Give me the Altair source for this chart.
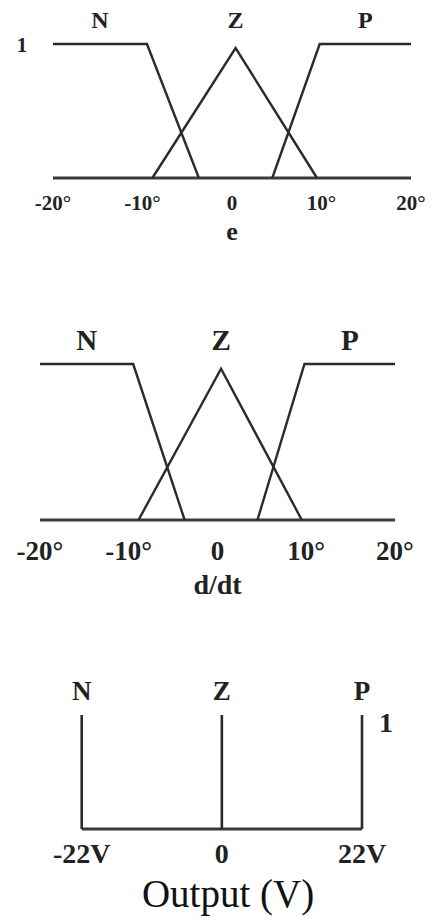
import altair as alt
import pandas as pd

# Fuzzy sets used for both inputs (error e and its derivative d/dt)
TERMS = ["N", "Z", "P"]
N_X = [-20, -9.5, -3.7]
N_MU = [1, 1, 0]
Z_X = [-8.9, 0.4, 9.5]
Z_MU = [0, 0.97, 0]
P_X = [4.5, 9.8, 20]
P_MU = [0, 1, 1]
UNIVERSE = [-20, 20]
TICKS = [-20, -10, 0, 10, 20]
TICK_LABELS = ["-20°", "-10°", "0", "10°", "20°"]

# Output singletons
OUT_X = [-22, 0, 22]
OUT_MU = [1, 1, 1]
OUT_TICK_LABELS = ["-22V", "0", "22V"]

SERIF = "Liberation Serif"
INK = "#222222"
LINE = "#2b2b2b"

sets = {"N": (N_X, N_MU), "Z": (Z_X, Z_MU), "P": (P_X, P_MU)}
mf = pd.DataFrame(
    [
        {"term": t, "step": i, "x": x, "mu": m}
        for t, (xs, ms) in sets.items()
        for i, (x, m) in enumerate(zip(xs, ms))
    ]
)
# label each set above the centre of its core (where membership peaks)
term_pos = pd.DataFrame(
    {
        "term": TERMS,
        "x": [
            sum(x for x, m in zip(*sets[t]) if m == max(sets[t][1]))
            / sum(1 for m in sets[t][1] if m == max(sets[t][1]))
            for t in TERMS
        ],
    }
)
base = pd.DataFrame({"x": UNIVERSE, "mu": [0, 0]})
ticks = pd.DataFrame({"x": TICKS, "label": TICK_LABELS})


def fuzzy_panel(height, xrange, yrange, term_y, term_size, tick_y, tick_size,
                title, title_y, title_size, one_xy=None):
    xs = alt.Scale(domain=UNIVERSE, range=xrange)
    ys = alt.Scale(domain=[0, 1], range=yrange)
    X = alt.X("x:Q", scale=xs, axis=None)
    Y = alt.Y("mu:Q", scale=ys, axis=None)

    baseline = alt.Chart(base).mark_line(color="#3a3a3a", strokeWidth=3.2).encode(x=X, y=Y)
    curves = (
        alt.Chart(mf)
        .mark_line(color=LINE, strokeWidth=2.4, strokeJoin="miter")
        .encode(x=X, y=Y, detail="term:N", order="step:O")
    )
    term_text = (
        alt.Chart(term_pos)
        .mark_text(font=SERIF, fontWeight="bold", fontSize=term_size, color=INK,
                   baseline="alphabetic")
        .encode(x=X, y=alt.value(term_y), text="term:N")
    )
    tick_text = (
        alt.Chart(ticks)
        .mark_text(font=SERIF, fontWeight="bold", fontSize=tick_size, color=INK,
                   baseline="alphabetic")
        .encode(x=X, y=alt.value(tick_y), text="label:N")
    )
    title_text = (
        alt.Chart(pd.DataFrame({"x": [0], "t": [title]}))
        .mark_text(font=SERIF, fontWeight="bold", fontSize=title_size, color=INK,
                   baseline="alphabetic")
        .encode(x=X, y=alt.value(title_y), text="t:N")
    )
    layers = [baseline, curves, term_text, tick_text, title_text]
    if one_xy is not None:
        layers.append(
            alt.Chart(pd.DataFrame({"t": ["1"]}))
            .mark_text(font=SERIF, fontWeight="bold", fontSize=21, color=INK,
                       baseline="alphabetic")
            .encode(x=alt.value(one_xy[0]), y=alt.value(one_xy[1]), text="t:N")
        )
    return alt.layer(*layers).properties(width=441, height=height)


panel_e = fuzzy_panel(255, [53, 411], [178, 44], 28, 24, 210, 21,
                      "e", 240, 26, one_xy=(22, 52))
panel_d = fuzzy_panel(355, [40, 395], [265, 109], 95, 29, 305, 27,
                      "d/dt", 339, 28)

# output panel: singleton spikes at -22 V, 0 and 22 V
out_df = pd.DataFrame({"term": TERMS, "x": OUT_X, "mu": OUT_MU, "zero": [0, 0, 0]})
out_ticks = pd.DataFrame({"x": OUT_X, "label": OUT_TICK_LABELS})
oxs = alt.Scale(domain=[-22, 22], range=[81.7, 362])
oys = alt.Scale(domain=[0, 1], range=[219, 105])
OX = alt.X("x:Q", scale=oxs, axis=None)
OY = alt.Y("mu:Q", scale=oys, axis=None)

out_base = (
    alt.Chart(pd.DataFrame({"x": [OUT_X[0], OUT_X[-1]], "mu": [0, 0]}))
    .mark_line(color="#3a3a3a", strokeWidth=3.2)
    .encode(x=OX, y=OY)
)
spikes = (
    alt.Chart(out_df)
    .mark_rule(color=LINE, strokeWidth=2.6)
    .encode(x=OX, y=OY, y2="zero:Q")
)
out_terms = (
    alt.Chart(out_df)
    .mark_text(font=SERIF, fontWeight="bold", fontSize=27, color=INK, baseline="alphabetic")
    .encode(x=OX, y=alt.value(90), text="term:N")
)
out_tick_text = (
    alt.Chart(out_ticks)
    .mark_text(font=SERIF, fontWeight="bold", fontSize=28, color=INK, baseline="alphabetic")
    .encode(x=OX, y=alt.value(253), text="label:N")
)
out_title = (
    alt.Chart(pd.DataFrame({"t": ["Output (V)"]}))
    .mark_text(font=SERIF, fontSize=39, color="#111111", baseline="alphabetic")
    .encode(x=alt.value(228), y=alt.value(297), text="t:N")
)
out_one = (
    alt.Chart(pd.DataFrame({"t": ["1"]}))
    .mark_text(font=SERIF, fontWeight="bold", fontSize=28, color=INK, baseline="alphabetic")
    .encode(x=alt.value(386), y=alt.value(122), text="t:N")
)
panel_out = alt.layer(out_base, spikes, out_terms, out_tick_text, out_title, out_one).properties(
    width=441, height=311
)

chart = (
    alt.vconcat(panel_e, panel_d, panel_out, spacing=0)
    .configure(padding=0, background="white")
    .configure_view(stroke=None)
)

chart.save("out.html", embed_options={"renderer": "svg", "actions": False})
